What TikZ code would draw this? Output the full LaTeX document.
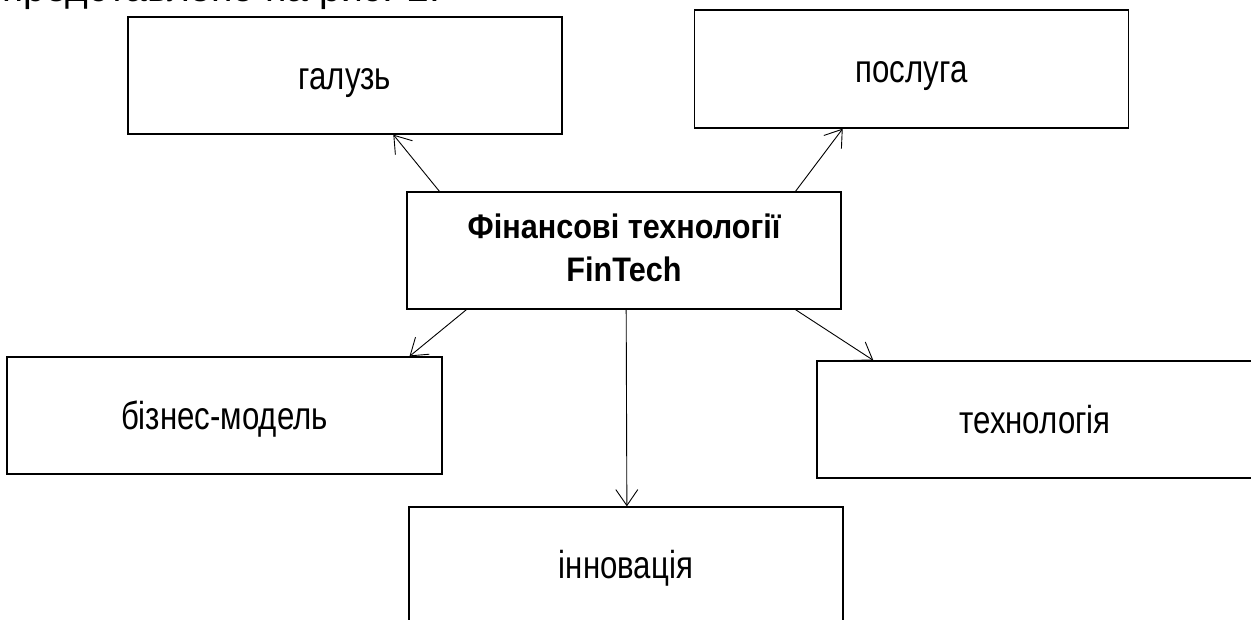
\documentclass[tikz,border=0pt]{standalone}
\usepackage{fontspec}
\setmainfont{Liberation Sans}
\newfontfamily\narrowfont{Liberation Sans}[FakeStretch=0.8]
\newfontfamily\titlefont{Liberation Sans}[FakeStretch=0.9]
\usetikzlibrary{arrows.meta,calc}
\begin{document}
\begin{tikzpicture}[x=1pt,y=-1pt,
  box/.style={draw=black,line width=1.3pt,rectangle,minimum width=434pt,minimum height=117pt,inner sep=0pt,font=\narrowfont\fontsize{39}{44}\selectfont,text height=27pt,text depth=0pt},
  titletext/.style={anchor=base,inner sep=0pt,font=\titlefont\bfseries\fontsize{34}{44}\selectfont},
  arr/.style={line width=0.9pt,-{Straight Barb[length=16pt,width=22pt,line width=0.9pt]}}]
\useasboundingbox (0,0) rectangle (1251,619);
\clip (0,0) rectangle (1251,619);
\fill[white] (0,0) rectangle (1251,619);
\node[anchor=base west,font=\fontsize{39}{44}\selectfont,inner sep=0pt] (top) at (2,1) {представлено на рис. 2.};
\node[box] (g) at (345,75.5) {галузь};
\node[box,minimum height=118pt] (p) at (911.5,69) {послуга};
\node[box] (c) at (624,250.5) {};
\node[titletext] (c1) at (624,238.3) {Фінансові технології};
\node[titletext] (c2) at (624,281.7) {FinTech};
\node[box,minimum width=435pt] (b) at (224.5,415.5) {бізнес-модель};
\node[box,minimum width=436pt] (t) at (1035,419.5) {технологія};
\node[box,text height=25pt] (i) at (626,565.5) {інновація};
\draw[arr] ($(c.north west)!0.076!(c.north east)$) -- ($(g.south west)!0.611!(g.south east)$);
\draw[arr] ($(c.north west)!0.894!(c.north east)$) -- ($(p.south west)!0.342!(p.south east)$);
\draw[arr] ($(c.south west)!0.138!(c.south east)$) -- ($(b.north west)!0.924!(b.north east)$);
\draw[arr] ($(c.south west)!0.894!(c.south east)$) -- ($(t.north west)+(57,0)$);
\draw[arr] ($(c.south west)!0.505!(c.south east)$) -- ($(i.north west)!0.502!(i.north east)$);
\end{tikzpicture}
\end{document}
